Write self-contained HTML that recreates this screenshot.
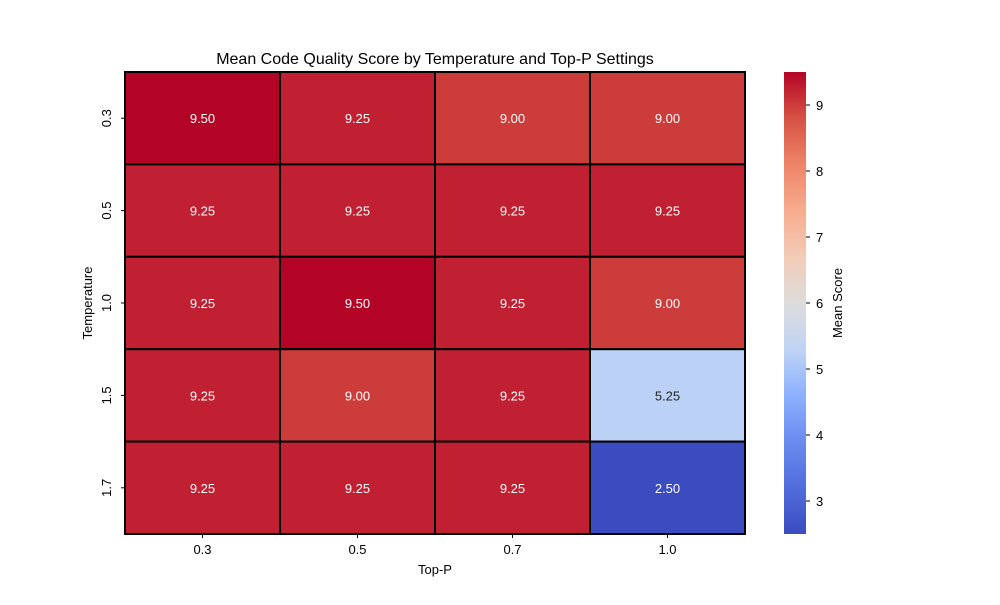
<!DOCTYPE html>
<html><head><meta charset="utf-8"><style>
body{margin:0;background:#fff;font-family:"Liberation Sans","DejaVu Sans",sans-serif;}
svg text{font-family:"Liberation Sans","DejaVu Sans",sans-serif;}
</style></head><body>
<svg id="chart" width="1000" height="600" xmlns="http://www.w3.org/2000/svg">
<defs><linearGradient id="cbg" x1="0" y1="1" x2="0" y2="0"></linearGradient></defs>
<text x="435" y="64" text-anchor="middle" font-size="16" fill="#000">Mean Code Quality Score by Temperature and Top-P Settings</text>
<g id="cells"></g>
<g id="xt"></g><g id="yt"></g><g id="cb"></g>
<text x="435" y="574" text-anchor="middle" font-size="13">Top-P</text>
<text transform="translate(92,303) rotate(-90)" text-anchor="middle" font-size="13">Temperature</text>
<text transform="translate(842,303) rotate(-90)" text-anchor="middle" font-size="13">Mean Score</text>
</svg>
<script>
const topP=["0.3","0.5","0.7","1.0"];
const temps=["0.3","0.5","1.0","1.5","1.7"];
const scores=[[9.50,9.25,9.00,9.00],[9.25,9.25,9.25,9.25],[9.25,9.50,9.25,9.00],[9.25,9.00,9.25,5.25],[9.25,9.25,9.25,2.50]];
const cbTicks=[3,4,5,6,7,8,9];
const vmin=2.5,vmax=9.5;
const NS="http://www.w3.org/2000/svg";
const stops=[[59,76,192],[81,109,219],[106,139,239],[141,176,254],[192,212,245],[221,220,220],[242,203,183],[247,172,142],[238,132,104],[214,82,68],[180,4,38]];
function cmapArr(v){let t=Math.max(0,Math.min(1,(v-vmin)/(vmax-vmin)))*10;let i=Math.min(9,Math.floor(t)),f=t-i;
return stops[i].map((a,k)=>Math.round(a+(stops[i+1][k]-a)*f));}
function cmap(v){return `rgb(${cmapArr(v)})`;}
const X0=125,X1=745,Y0=72,Y1=534;
const cw=(X1-X0)/topP.length,ch=(Y1-Y0)/temps.length;
const xs=i=>X0+i*cw, ys=j=>Y0+j*ch;
function el(t,a,p){const e=document.createElementNS(NS,t);for(const k in a)e.setAttribute(k,a[k]);p.appendChild(e);return e;}
const cells=document.getElementById('cells');
scores.forEach((row,j)=>row.forEach((v,i)=>{
 const r=el('rect',{x:xs(i),y:ys(j),width:cw,height:ch,fill:cmap(v),stroke:'#000','stroke-width':2},cells);
 
 
 const c=cmapArr(v);const lum=0.2126*c[0]+0.7152*c[1]+0.0722*c[2];
 const t=el('text',{x:xs(i)+cw/2,y:ys(j)+ch/2+5,'text-anchor':'middle','font-size':13,fill:lum>150?'#262626':'#fff'},cells);
 t.textContent=v.toFixed(2);
 
 
}));
const xt=document.getElementById('xt');
topP.forEach((l,i)=>{const x=xs(i)+cw/2;
 el('line',{x1:x,x2:x,y1:Y1,y2:Y1+4,stroke:'#000'},xt);
 const t=el('text',{x:x,y:Y1+20,'text-anchor':'middle','font-size':13},xt);t.textContent=l;
 
 });
const yt=document.getElementById('yt');
temps.forEach((l,j)=>{const y=ys(j)+ch/2;
 el('line',{x1:X0-4,x2:X0,y1:y,y2:y,stroke:'#000'},yt);
 const t=el('text',{transform:`translate(${X0-14},${y}) rotate(-90)`,'text-anchor':'middle','font-size':13},yt);t.textContent=l;
 
 });
const g=document.getElementById('cbg');
stops.forEach((c,k)=>el('stop',{offset:k/10,'stop-color':`rgb(${c})`},g));
const cb=document.getElementById('cb');
const CX=784,CW=22;
const cy=v=>Y1-(v-vmin)/(vmax-vmin)*(Y1-Y0);
const bar=el('rect',{x:CX,y:Y0,width:CW,height:Y1-Y0,fill:'url(#cbg)'},cb);


cbTicks.forEach(v=>{const y=cy(v);
 el('line',{x1:CX+CW,x2:CX+CW+4,y1:y,y2:y,stroke:'#000'},cb);
 const t=el('text',{x:CX+CW+10,y:y+5,'font-size':13},cb);t.textContent=v;
 
 });
</script>
</body></html>
